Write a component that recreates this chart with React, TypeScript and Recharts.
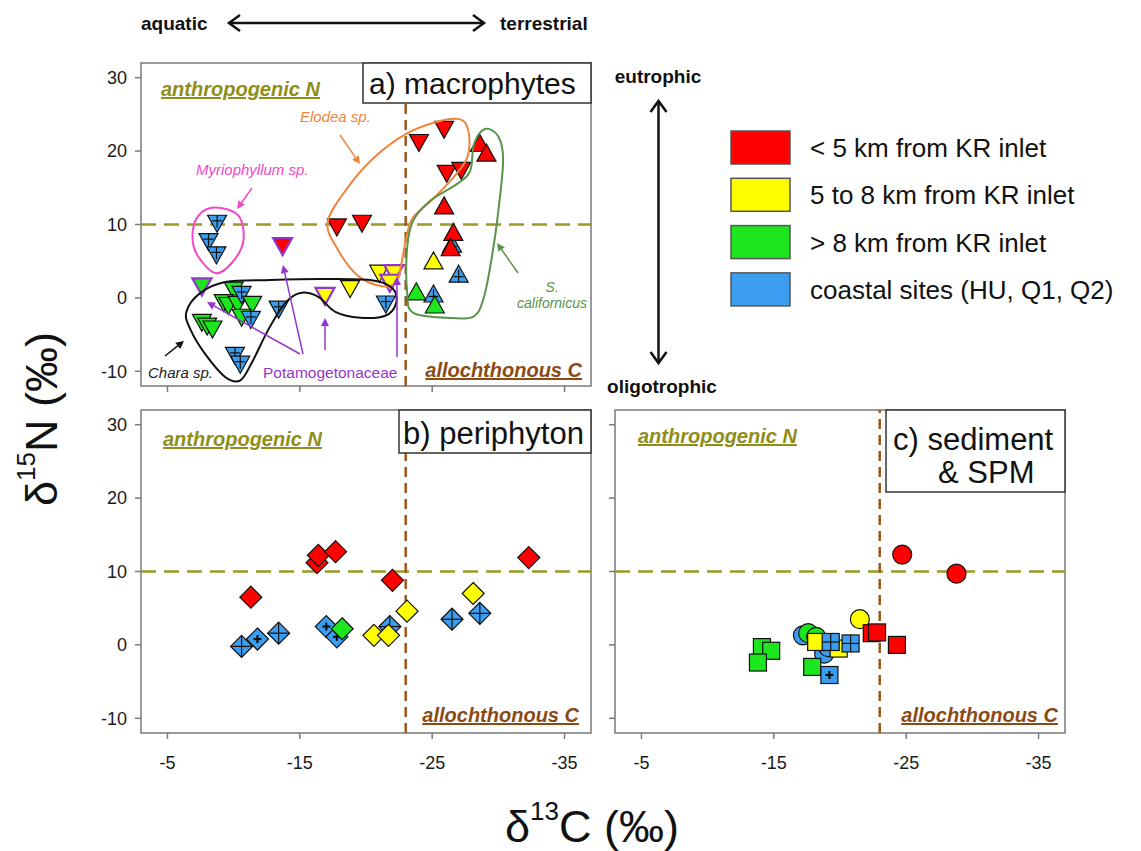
import React from 'react'
import { ScatterChart, Scatter, XAxis, YAxis, ReferenceLine, ReferenceArea } from 'recharts'

type Site = 'near' | 'mid' | 'far' | 'coast'
interface Pt { c: number; n: number; site: Site; potam?: boolean; mark?: 'cross' | 'plus' | 'grid' }

const siteKeys: Site[] = ['near', 'mid', 'far', 'coast']
const siteLabels = ['< 5 km from KR inlet', '5 to 8 km from KR inlet', '> 8 km from KR inlet', 'coastal sites (HU, Q1, Q2)']

const xTicks = [-5, -15, -25, -35]
const yTicks = [-10, 0, 10, 20, 30]
const DOMAIN_C: [number, number] = [-37, -3]
const DOMAIN_N: [number, number] = [-12, 32]

// a) macrophytes, downward triangles
const elodea: Pt[] = [
  { c: -17.8, n: 9.6, site: 'near' }, { c: -19.7, n: 10.1, site: 'near' },
  { c: -24.0, n: 21.1, site: 'near' }, { c: -25.9, n: 22.9, site: 'near' },
  { c: -26.1, n: 16.9, site: 'near' }, { c: -27.2, n: 17.3, site: 'near' },
  { c: -21.0, n: 3.3, site: 'mid' },
]
const myriophyllum: Pt[] = [
  { c: -8.75, n: 10.1, site: 'coast' }, { c: -8.1, n: 7.6, site: 'coast' }, { c: -8.7, n: 5.8, site: 'coast' },
]
const chara: Pt[] = [
  { c: -10.0, n: 1.0, site: 'far' }, { c: -9.25, n: -0.7, site: 'far' }, { c: -9.6, n: -1.1, site: 'far' },
  { c: -10.3, n: -0.95, site: 'far' }, { c: -10.6, n: 0.4, site: 'coast' }, { c: -11.4, n: -0.95, site: 'far' },
  { c: -10.6, n: -2.7, site: 'far' }, { c: -11.3, n: -3.0, site: 'coast' },
  { c: -7.6, n: -3.4, site: 'far' }, { c: -8.0, n: -3.9, site: 'far' }, { c: -8.4, n: -4.3, site: 'far' },
  { c: -13.4, n: -1.6, site: 'coast' }, { c: -10.1, n: -7.9, site: 'coast' }, { c: -10.5, n: -9.1, site: 'coast' },
  { c: -18.8, n: 1.2, site: 'mid' }, { c: -21.5, n: -0.9, site: 'coast' },
]
const potamogetonaceae: Pt[] = [
  { c: -13.7, n: 7.0, site: 'near', potam: true }, { c: -7.6, n: 1.5, site: 'far', potam: true },
  { c: -16.9, n: 0.2, site: 'mid', potam: true }, { c: -22.1, n: 3.3, site: 'mid', potam: true },
  { c: -21.8, n: 2.0, site: 'mid', potam: true },
]
// a) macrophytes, upward triangles
const sCalifornicus: Pt[] = [
  { c: -26.5, n: 7.4, site: 'coast' }, { c: -27.0, n: 3.3, site: 'coast' }, { c: -25.1, n: 0.6, site: 'coast' },
  { c: -28.6, n: 21.1, site: 'near' }, { c: -29.1, n: 19.8, site: 'near' }, { c: -25.9, n: 12.6, site: 'near' },
  { c: -26.6, n: 9.0, site: 'near' }, { c: -26.4, n: 6.9, site: 'near' },
  { c: -25.1, n: 5.1, site: 'mid' }, { c: -23.8, n: 0.9, site: 'far' }, { c: -25.2, n: -0.9, site: 'far' },
]

// b) periphyton, diamonds
const periphyton: Pt[] = [
  { c: -10.6, n: -0.2, site: 'coast', mark: 'cross' }, { c: -11.8, n: 0.8, site: 'coast', mark: 'plus' },
  { c: -13.4, n: 1.6, site: 'coast', mark: 'cross' }, { c: -17.0, n: 2.5, site: 'coast', mark: 'plus' },
  { c: -17.8, n: 1.1, site: 'coast', mark: 'plus' }, { c: -21.8, n: 2.5, site: 'coast', mark: 'cross' },
  { c: -26.5, n: 3.5, site: 'coast', mark: 'cross' }, { c: -28.6, n: 4.3, site: 'coast', mark: 'cross' },
  { c: -11.3, n: 6.5, site: 'near' }, { c: -16.3, n: 11.2, site: 'near' }, { c: -16.4, n: 12.2, site: 'near' },
  { c: -17.7, n: 12.7, site: 'near' }, { c: -22.0, n: 8.8, site: 'near' }, { c: -32.3, n: 11.9, site: 'near' },
  { c: -18.2, n: 2.2, site: 'far' },
  { c: -20.6, n: 1.3, site: 'mid' }, { c: -21.7, n: 1.3, site: 'mid' }, { c: -23.1, n: 4.6, site: 'mid' },
  { c: -28.1, n: 7.0, site: 'mid' },
]

// c) sediment (circles) & SPM (squares)
const sediment: Pt[] = [
  { c: -24.7, n: 12.3, site: 'near' }, { c: -28.8, n: 9.7, site: 'near' }, { c: -21.5, n: 3.5, site: 'mid' },
  { c: -18.8, n: -1.2, site: 'coast' }, { c: -19.1, n: -0.3, site: 'coast' }, { c: -17.2, n: 1.3, site: 'coast' },
  { c: -17.6, n: 1.6, site: 'far' }, { c: -18.2, n: 1.1, site: 'far' },
]
const spm: Pt[] = [
  { c: -14.1, n: -0.3, site: 'far' }, { c: -14.8, n: -0.8, site: 'far' }, { c: -13.8, n: -2.4, site: 'far' },
  { c: -17.9, n: -3.0, site: 'far' }, { c: -19.9, n: -0.5, site: 'mid' }, { c: -18.2, n: 0.4, site: 'mid' },
  { c: -19.3, n: 0.4, site: 'coast', mark: 'grid' }, { c: -20.8, n: 0.2, site: 'coast', mark: 'grid' },
  { c: -19.2, n: -4.1, site: 'coast', mark: 'plus' },
  { c: -22.4, n: 1.6, site: 'near' }, { c: -22.8, n: 1.7, site: 'near' }, { c: -24.3, n: 0.0, site: 'near' },
]

// hand-drawn taxon outlines in panel a, in data units
const elodeaHull: [number, number][] = [[-17.1, 10.3], [-18.6, 15.0], [-20.6, 19.1], [-23.1, 22.4], [-25.6, 24.1], [-27.3, 24.2], [-27.8, 22.0], [-27.6, 18.9], [-26.4, 16.0], [-24.9, 13.2], [-23.5, 10.8], [-23.0, 7.8], [-22.7, 4.9], [-22.3, 2.2], [-21.2, 1.6], [-19.4, 3.0], [-17.9, 6.5]]
const sCalHull: [number, number][] = [[-29.0, 23.0], [-30.0, 22.0], [-30.36, 18.65], [-29.91, 10.54], [-29.38, 4.19], [-28.85, -0.27], [-28.09, -2.57], [-26.13, -2.7], [-23.57, -2.03], [-23.11, 0.68], [-23.11, 6.89], [-23.57, 10.54], [-24.85, 13.24], [-26.89, 15.54], [-27.87, 17.3], [-28.17, 21.0]]
const myrioHull: [number, number][] = [[-8.62, 12.3], [-10.36, 11.22], [-10.74, 7.84], [-9.91, 4.86], [-8.62, 3.38], [-7.26, 5.81], [-6.89, 8.51], [-7.34, 11.22]]
const charaHull: [number, number][] = [[-6.43, -1.9], [-7.49, 0.68], [-9.38, 2.16], [-12.77, 2.43], [-16.55, 2.57], [-20.32, 2.43], [-21.98, 1.35], [-22.28, -0.68], [-21.45, -2.43], [-19.57, -2.7], [-17.68, -1.89], [-16.4, 0.14], [-15.04, 0.68], [-13.91, -0.68], [-12.62, -4.32], [-11.42, -8.65], [-10.51, -11.22], [-9.38, -10.81], [-7.87, -7.7], [-6.74, -4.32]]

const FILL: Record<Site, string> = { near: '#ff0000', mid: '#ffff00', far: '#1ee61e', coast: '#3c9ef0' }
const FRAME = '#7a7a7a'
const OLIVE = '#9a9a24'
const OLIVE_TXT = '#8e8e18'
const BROWN = '#a0581e'
const BROWN_TXT = '#8b4a14'
const PURPLE = '#9436cc'

// panel a plot box, used to place the outlines
const PLOT_A = { left: 141, top: 63, width: 450, height: 323 }
const sx = (c: number) => PLOT_A.left + ((DOMAIN_C[1] - c) / (DOMAIN_C[1] - DOMAIN_C[0])) * PLOT_A.width
const sy = (n: number) => PLOT_A.top + ((DOMAIN_N[1] - n) / (DOMAIN_N[1] - DOMAIN_N[0])) * PLOT_A.height

function smoothClosed(pts: [number, number][]) {
  const p = pts.map(([c, n]) => [sx(c), sy(n)])
  const N = p.length
  let d = `M${p[0][0]},${p[0][1]}`
  for (let i = 0; i < N; i++) {
    const p0 = p[(i - 1 + N) % N], p1 = p[i], p2 = p[(i + 1) % N], p3 = p[(i + 2) % N]
    const c1x = p1[0] + (p2[0] - p0[0]) / 6, c1y = p1[1] + (p2[1] - p0[1]) / 6
    const c2x = p2[0] - (p3[0] - p1[0]) / 6, c2y = p2[1] - (p3[1] - p1[1]) / 6
    d += ` C${c1x},${c1y} ${c2x},${c2y} ${p2[0]},${p2[1]}`
  }
  return d + 'Z'
}

type Kind = 'down' | 'up' | 'diamond' | 'square' | 'circle'

function Marker(props: any) {
  const { cx, cy, payload, kind } = props as { cx: number; cy: number; payload: Pt; kind: Kind }
  if (cx == null || cy == null || !payload) return null
  const fill = FILL[payload.site]
  const stroke = payload.potam ? PURPLE : '#111'
  const sw = payload.potam ? 2.2 : 1.2
  const coast = payload.site === 'coast'
  const ln = (x1: number, y1: number, x2: number, y2: number, w = 1.2) => (
    <line x1={x1} y1={y1} x2={x2} y2={y2} stroke="#111" strokeWidth={w} />
  )
  if (kind === 'down' || kind === 'up') {
    const w = 9.5, h = 8.5
    const pts = kind === 'down'
      ? `${cx - w},${cy - h} ${cx + w},${cy - h} ${cx},${cy + h}`
      : `${cx},${cy - h} ${cx + w},${cy + h} ${cx - w},${cy + h}`
    return (
      <g>
        <polygon points={pts} fill={fill} stroke={stroke} strokeWidth={sw} strokeLinejoin="miter" />
        {coast && kind === 'down' && <>{ln(cx, cy - h, cx, cy + 4)}{ln(cx - 5, cy - 3, cx + 5, cy - 3)}</>}
        {coast && kind === 'up' && <>{ln(cx, cy - 4, cx, cy + h)}{ln(cx - 5, cy + 3, cx + 5, cy + 3)}</>}
      </g>
    )
  }
  if (kind === 'diamond') {
    const r = 11
    return (
      <g>
        <polygon points={`${cx},${cy - r} ${cx + r},${cy} ${cx},${cy + r} ${cx - r},${cy}`} fill={fill} stroke={stroke} strokeWidth={sw} />
        {coast && payload.mark === 'cross' && <>{ln(cx, cy - r, cx, cy + r)}{ln(cx - r, cy, cx + r, cy)}</>}
        {coast && payload.mark === 'plus' && <>{ln(cx, cy - 4, cx, cy + 4, 2.2)}{ln(cx - 4, cy, cx + 4, cy, 2.2)}</>}
      </g>
    )
  }
  if (kind === 'square') {
    const s = 8.5
    return (
      <g>
        <rect x={cx - s} y={cy - s} width={2 * s} height={2 * s} fill={fill} stroke={stroke} strokeWidth={sw} />
        {coast && payload.mark === 'grid' && <>{ln(cx, cy - s, cx, cy + s)}{ln(cx - s, cy, cx + s, cy)}</>}
        {coast && payload.mark === 'plus' && <>{ln(cx, cy - 4, cx, cy + 4, 2.2)}{ln(cx - 4, cy, cx + 4, cy, 2.2)}</>}
      </g>
    )
  }
  return <circle cx={cx} cy={cy} r={9.5} fill={fill} stroke={stroke} strokeWidth={sw} />
}

const shapeOf = (kind: Kind) => (p: any) => <Marker {...p} kind={kind} />

interface PanelProps {
  left: number
  top: number
  width: number
  margin: { top: number; right: number; bottom: number; left: number }
  xLabels: boolean
  yLabels: boolean
  children: React.ReactNode
}

function Panel({ left, top, width, margin, xLabels, yLabels, children }: PanelProps) {
  return (
    <div style={{ position: 'absolute', left, top }}>
      <ScatterChart width={width} height={420} margin={margin}>
        <XAxis
          type="number" dataKey="c" domain={DOMAIN_C} reversed ticks={xTicks} interval={0} allowDataOverflow
          axisLine={false} tickLine={{ stroke: FRAME, strokeWidth: 1.5 }} tickSize={6} tickMargin={17}
          height={xLabels ? 60 : 30} tick={{ fill: '#1a1a1a', fontSize: 18 }}
          tickFormatter={xLabels ? (v: number) => String(v) : () => ''}
        />
        <YAxis
          type="number" dataKey="n" domain={DOMAIN_N} ticks={yTicks} interval={0} allowDataOverflow
          axisLine={false} tickLine={{ stroke: FRAME, strokeWidth: 1.5 }} tickSize={6} tickMargin={8}
          width={60} tick={{ fill: '#1a1a1a', fontSize: 18 }}
          tickFormatter={yLabels ? (v: number) => String(v) : () => ''}
        />
        <ReferenceArea x1={DOMAIN_C[0]} x2={DOMAIN_C[1]} y1={DOMAIN_N[0]} y2={DOMAIN_N[1]} fill="none" fillOpacity={0} stroke={FRAME} strokeWidth={1.5} />
        <ReferenceLine y={10} stroke={OLIVE} strokeWidth={2.5} strokeDasharray="15 8" />
        <ReferenceLine x={-23} stroke={BROWN} strokeWidth={2.5} strokeDasharray="10 6" />
        {children}
      </ScatterChart>
    </div>
  )
}

const Label = ({ x, y, text, color, anchor = 'start' }: { x: number; y: number; text: string; color: string; anchor?: 'start' | 'end' }) => (
  <text x={x} y={y} fill={color} fontSize={20} fontWeight="bold" fontStyle="italic" textAnchor={anchor} style={{ textDecoration: 'underline' }}>
    {text}
  </text>
)

function Arrow({ x1, y1, x2, y2, color }: { x1: number; y1: number; x2: number; y2: number; color: string }) {
  const a = Math.atan2(y2 - y1, x2 - x1)
  const L = 8, W = 4
  const bx = x2 - L * Math.cos(a), by = y2 - L * Math.sin(a)
  const head = `${x2},${y2} ${bx + W * Math.sin(a)},${by - W * Math.cos(a)} ${bx - W * Math.sin(a)},${by + W * Math.cos(a)}`
  return (
    <g>
      <line x1={x1} y1={y1} x2={bx} y2={by} stroke={color} strokeWidth={1.5} />
      <polygon points={head} fill={color} />
    </g>
  )
}

function Overlay() {
  return (
    <svg width={1141} height={851} style={{ position: 'absolute', left: 0, top: 0, pointerEvents: 'none' }}>
      {/* outlines */}
      <path d={smoothClosed(elodeaHull)} fill="none" stroke="#f0843c" strokeWidth={2} />
      <path d={smoothClosed(sCalHull)} fill="none" stroke="#5a934a" strokeWidth={2} />
      <path d={smoothClosed(myrioHull)} fill="none" stroke="#f048c8" strokeWidth={2} />
      <path d={smoothClosed(charaHull)} fill="none" stroke="#111" strokeWidth={2} />

      {/* taxon names */}
      <text x={300} y={122} fontSize={15} fontStyle="italic" fill="#f0843c">Elodea sp.</text>
      <text x={196} y={175} fontSize={15} fontStyle="italic" fill="#f048c8">Myriophyllum sp.</text>
      <text x={148} y={378} fontSize={15} fontStyle="italic" fill="#222">Chara sp.</text>
      <text x={263} y={378} fontSize={15.5} fill={PURPLE}>Potamogetonaceae</text>
      <text x={552} y={292} fontSize={14} fontStyle="italic" fill="#5a934a" textAnchor="middle">S.</text>
      <text x={552} y={308} fontSize={14} fontStyle="italic" fill="#5a934a" textAnchor="middle">californicus</text>
      <Arrow x1={340} y1={135} x2={360} y2={164} color="#f0843c" />
      <Arrow x1={252} y1={188} x2={237} y2={209} color="#f048c8" />
      <Arrow x1={165} y1={356} x2={184} y2={341} color="#111" />
      <Arrow x1={300} y1={354} x2={207} y2={302} color={PURPLE} />
      <Arrow x1={303} y1={354} x2={283} y2={265} color={PURPLE} />
      <Arrow x1={325} y1={350} x2={325} y2={318} color={PURPLE} />
      <Arrow x1={397} y1={357} x2={397} y2={277} color={PURPLE} />
      <Arrow x1={518} y1={273} x2={497} y2={243} color="#5a934a" />

      {/* quadrant labels */}
      <Label x={161} y={96} text="anthropogenic N" color={OLIVE_TXT} />
      <Label x={163} y={446} text="anthropogenic N" color={OLIVE_TXT} />
      <Label x={638} y={443} text="anthropogenic N" color={OLIVE_TXT} />
      <Label x={582} y={377} text="allochthonous C" color={BROWN_TXT} anchor="end" />
      <Label x={579} y={722} text="allochthonous C" color={BROWN_TXT} anchor="end" />
      <Label x={1058} y={722} text="allochthonous C" color={BROWN_TXT} anchor="end" />

      {/* panel titles */}
      <rect x={363} y={63} width={228} height={40} fill="#fff" stroke="#333" strokeWidth={1.5} />
      <text x={369} y={94} fontSize={30} fill="#111">a) macrophytes</text>
      <rect x={399} y={410} width={192} height={43} fill="#fff" stroke="#333" strokeWidth={1.5} />
      <text x={403} y={444} fontSize={31} fill="#111">b) periphyton</text>
      <rect x={886} y={410} width={179} height={82} fill="#fff" stroke="#333" strokeWidth={1.5} />
      <text x={893} y={450} fontSize={31} fill="#111">c) sediment</text>
      <text x={938} y={483} fontSize={31} fill="#111">&amp; SPM</text>

      {/* aquatic / terrestrial */}
      <text x={141} y={30} fontSize={19} fontWeight="bold" fill="#111">aquatic</text>
      <text x={500} y={30} fontSize={19} fontWeight="bold" fill="#111">terrestrial</text>
      <g stroke="#111" strokeWidth={2.5} fill="none">
        <line x1={229} y1={23} x2={484} y2={23} />
        <polyline points="240,15 229,23 240,31" />
        <polyline points="473,15 484,23 473,31" />
      </g>

      {/* eutrophic / oligotrophic */}
      <text x={658} y={83} fontSize={19} fontWeight="bold" fill="#111" textAnchor="middle">eutrophic</text>
      <text x={662} y={393} fontSize={19} fontWeight="bold" fill="#111" textAnchor="middle">oligotrophic</text>
      <g stroke="#111" strokeWidth={2.5} fill="none">
        <line x1={658.5} y1={101} x2={658.5} y2={363} />
        <polyline points="650.5,112 658.5,101 666.5,112" />
        <polyline points="650.5,352 658.5,363 666.5,352" />
      </g>

      {/* legend */}
      {siteKeys.map((k, i) => (
        <g key={k}>
          <rect x={731} y={131 + i * 47.3} width={59} height={33} fill={FILL[k]} stroke="#555" strokeWidth={1.5} />
          <text x={810} y={157 + i * 47.3} fontSize={26} fill="#111">{siteLabels[i]}</text>
        </g>
      ))}

      {/* axis titles */}
      <text x={592} y={842} fontSize={45} fill="#111" textAnchor="middle">
        δ<tspan dy={-22} fontSize={26}>13</tspan><tspan dy={22}>C (‰)</tspan>
      </text>
      <text transform="translate(57,419) rotate(-90)" fontSize={45} fill="#111" textAnchor="middle">
        δ<tspan dy={-22} fontSize={26}>15</tspan><tspan dy={22}>N (‰)</tspan>
      </text>
    </svg>
  )
}

export default function App() {
  return (
    <div style={{ position: 'absolute', left: 0, top: 0, width: 1141, height: 851, background: '#fff', fontFamily: '"Liberation Sans", Arial, sans-serif', overflow: 'hidden' }}>
      <Panel left={0} top={0} width={620} margin={{ top: 63, right: 29, bottom: 4, left: 81 }} xLabels={false} yLabels>
        <Scatter data={sCalifornicus} shape={shapeOf('up')} isAnimationActive={false} />
        <Scatter data={chara} shape={shapeOf('down')} isAnimationActive={false} />
        <Scatter data={myriophyllum} shape={shapeOf('down')} isAnimationActive={false} />
        <Scatter data={elodea} shape={shapeOf('down')} isAnimationActive={false} />
        <Scatter data={potamogetonaceae} shape={shapeOf('down')} isAnimationActive={false} />
      </Panel>
      <Panel left={0} top={400} width={620} margin={{ top: 10, right: 29, bottom: 27, left: 81 }} xLabels yLabels>
        <Scatter data={periphyton} shape={shapeOf('diamond')} isAnimationActive={false} />
      </Panel>
      <Panel left={555} top={400} width={540} margin={{ top: 10, right: 30, bottom: 27, left: 0 }} xLabels yLabels={false}>
        <Scatter data={sediment} shape={shapeOf('circle')} isAnimationActive={false} />
        <Scatter data={spm} shape={shapeOf('square')} isAnimationActive={false} />
      </Panel>
      <Overlay />
    </div>
  )
}
